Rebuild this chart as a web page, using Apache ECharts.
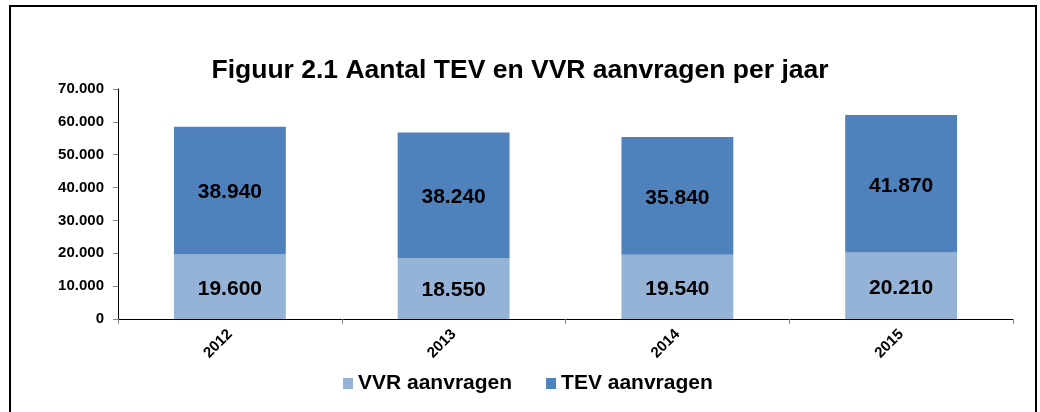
<!DOCTYPE html>
<html>
<head>
<meta charset="utf-8">
<script src="https://cdn.jsdelivr.net/npm/echarts@6/dist/echarts.min.js"></script>
<style>
  html, body { margin: 0; padding: 0; background: #fff; }
  #chart { width: 1040px; height: 412px; }
</style>
</head>
<body>
<div id="chart"></div>
<script>
var years = ['2012', '2013', '2014', '2015'];
var vvr = [19600, 18550, 19540, 20210];
var tev = [38940, 38240, 35840, 41870];

function fmt(v) {
    return String(v).replace(/\B(?=(\d{3})+(?!\d))/g, '.');
}

var chart = echarts.init(document.getElementById('chart'));
var labelStyle = {
    show: true,
    position: 'inside',
    offset: [0, 2],
    color: '#000',
    fontFamily: 'Liberation Sans',
    fontWeight: 'bold',
    fontSize: 21,
    formatter: function (p) { return fmt(p.value); }
};
var option = {
    animation: false,
    graphic: [{
        type: 'rect',
        shape: { x: 10, y: 6, width: 1026, height: 420 },
        style: { fill: 'none', stroke: '#000', lineWidth: 2 }
    }],
    title: {
        text: 'Figuur 2.1 Aantal TEV en VVR aanvragen per jaar',
        left: 'center',
        top: 52,
        textStyle: {
            fontFamily: 'Liberation Sans',
            fontWeight: 'bold',
            fontSize: 26.5,
            color: '#000'
        }
    },
    legend: {
        top: 368,
        left: 338,
        itemWidth: 10,
        itemHeight: 11,
        itemGap: 34,
        icon: 'rect',
        textStyle: {
            fontFamily: 'Liberation Sans',
            fontWeight: 'bold',
            fontSize: 21,
            color: '#000'
        },
        data: ['VVR aanvragen', 'TEV aanvragen']
    },
    grid: { left: 118, right: 27, top: 89, bottom: 93 },
    xAxis: {
        type: 'category',
        data: years,
        axisLine: { lineStyle: { color: '#000', width: 1 } },
        axisTick: { show: true, length: 5, lineStyle: { color: '#888' } },
        axisLabel: {
            rotate: 45,
            margin: 13,
            color: '#000',
            fontFamily: 'Liberation Sans',
            fontWeight: 'bold',
            fontSize: 15
        }
    },
    yAxis: {
        type: 'value',
        min: 0,
        max: 70000,
        interval: 10000,
        splitLine: { show: false },
        axisLine: { show: true, lineStyle: { color: '#000', width: 1 } },
        axisTick: { show: true, length: 5, lineStyle: { color: '#888' } },
        axisLabel: {
            margin: 14,
            color: '#000',
            fontFamily: 'Liberation Sans',
            fontWeight: 'bold',
            fontSize: 15,
            formatter: fmt
        }
    },
    series: [{
        name: 'VVR aanvragen',
        type: 'bar',
        stack: 'total',
        barWidth: '50%',
        itemStyle: { color: '#95b3d7' },
        label: labelStyle,
        data: vvr
    }, {
        name: 'TEV aanvragen',
        type: 'bar',
        stack: 'total',
        barWidth: '50%',
        itemStyle: { color: '#4f81bd' },
        label: labelStyle,
        data: tev
    }]
};
chart.setOption(option);
</script>
</body>
</html>
